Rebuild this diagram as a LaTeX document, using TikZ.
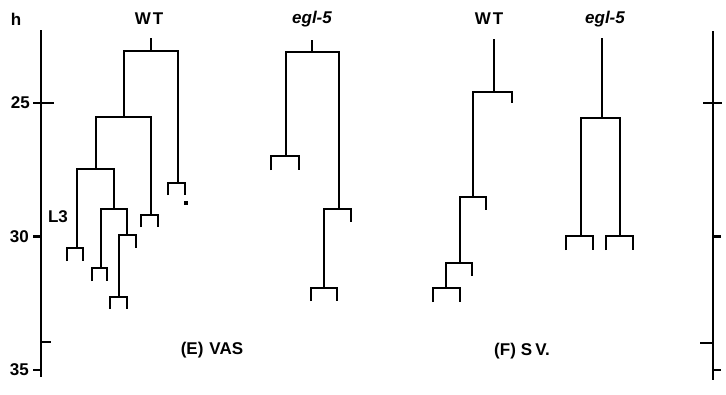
\documentclass[tikz,border=0pt]{standalone}
\usepackage{fontspec}
\setmainfont{Liberation Sans}
\begin{document}
\begin{tikzpicture}[x=1pt,y=-1pt,
  lin/.style={line width=2.4pt,line join=miter,line cap=butt},
  ax/.style={line width=2.4pt,line cap=butt},
  lab/.style={font=\fontsize{17}{17}\selectfont\bfseries,inner sep=0pt},
  num/.style={font=\fontsize{17}{17}\selectfont\bfseries,inner sep=0pt,anchor=east},
  captext/.style={font=\fontsize{17}{17}\selectfont\bfseries,inner sep=0pt}]
\useasboundingbox[fill=white] (0,0) rectangle (726,394);

% ---- left time axis (hours) ----
\node[lab] (h) at (16,19) {h};
\coordinate (la0) at (41,30);
\coordinate (la1) at (41,377);
\draw[ax] (la0) -- (la1);
\draw[ax] (33,103) -- (54,103);
\draw[ax] (33,236.5) -- (41,236.5);
\draw[ax] (33,370) -- (41,370);
\draw[ax] (41,342) -- (51,342);
\node[num] (t25) at (30,103) {25};
\node[num] (t30) at (29,236.5) {30};
\node[num] (t35) at (29,370) {35};
\node[lab] (l3) at (58,217) {L3};

% ---- right time axis ----
\coordinate (ra0) at (713,31);
\coordinate (ra1) at (713,380);
\draw[ax] (ra0) -- (ra1);
\draw[ax] (703,103) -- (722,103);
\draw[ax] (713,236.5) -- (721,236.5);
\draw[ax] (700,343) -- (713,343);
\draw[ax] (713,370) -- (721,370);

% ---- column headings ----
\node[lab] (wtE) at (149,19) {W\hspace{2pt}T};
\node[lab] (egE) at (312,19) {\itshape egl-5};
\node[lab] (wtF) at (489,19) {W\hspace{2pt}T};
\node[lab] (egF) at (605,19) {\itshape egl-5};

% ---- (E) VAS, wild type ----
\draw[lin] (151,38) -- (151,51);
\draw[lin] (124,117) -- (124,51) -- (178,51) -- (178,183);
\draw[lin] (168,195) -- (168,183) -- (185,183) -- (185,195);
\fill (184,201) rectangle (188,205);
\draw[lin] (96,169) -- (96,117) -- (151,117) -- (151,215);
\draw[lin] (141,227) -- (141,215) -- (158,215) -- (158,227);
\draw[lin] (77,248) -- (77,169) -- (114,169) -- (114,209);
\draw[lin] (67,261) -- (67,248) -- (83,248) -- (83,261);
\draw[lin] (101,268) -- (101,209) -- (127,209) -- (127,235);
\draw[lin] (92,281) -- (92,268) -- (107,268) -- (107,281);
\draw[lin] (119,297) -- (119,235) -- (136,235) -- (136,248);
\draw[lin] (110,309) -- (110,297) -- (127,297) -- (127,309);

% ---- (E) VAS, egl-5 ----
\draw[lin] (312,40) -- (312,52);
\draw[lin] (286,156) -- (286,52) -- (339,52) -- (339,209);
\draw[lin] (271,170) -- (271,156) -- (299,156) -- (299,170);
\draw[lin] (324,288) -- (324,209) -- (351,209) -- (351,222);
\draw[lin] (311,301) -- (311,288) -- (337,288) -- (337,301);

% ---- (F) S V., wild type ----
\draw[lin] (494,39) -- (494,92);
\draw[lin] (473,197) -- (473,92) -- (512,92) -- (512,103);
\draw[lin] (460,263) -- (460,197) -- (486,197) -- (486,210);
\draw[lin] (446,288) -- (446,263) -- (472,263) -- (472,276);
\draw[lin] (433,302) -- (433,288) -- (460,288) -- (460,302);

% ---- (F) S V., egl-5 ----
\draw[lin] (602,38) -- (602,118);
\draw[lin] (581,236) -- (581,118) -- (620,118) -- (620,236);
\draw[lin] (566,250) -- (566,236) -- (593,236) -- (593,250);
\draw[lin] (606,250) -- (606,236) -- (633,236) -- (633,250);

% ---- panel captions ----
\node[captext] (capE) at (212,350) {(E)\hspace{6pt}VAS};
\node[captext] (capF) at (522,351) {(F)\hspace{5pt}S\hspace{3pt}V.};
\end{tikzpicture}
\end{document}
